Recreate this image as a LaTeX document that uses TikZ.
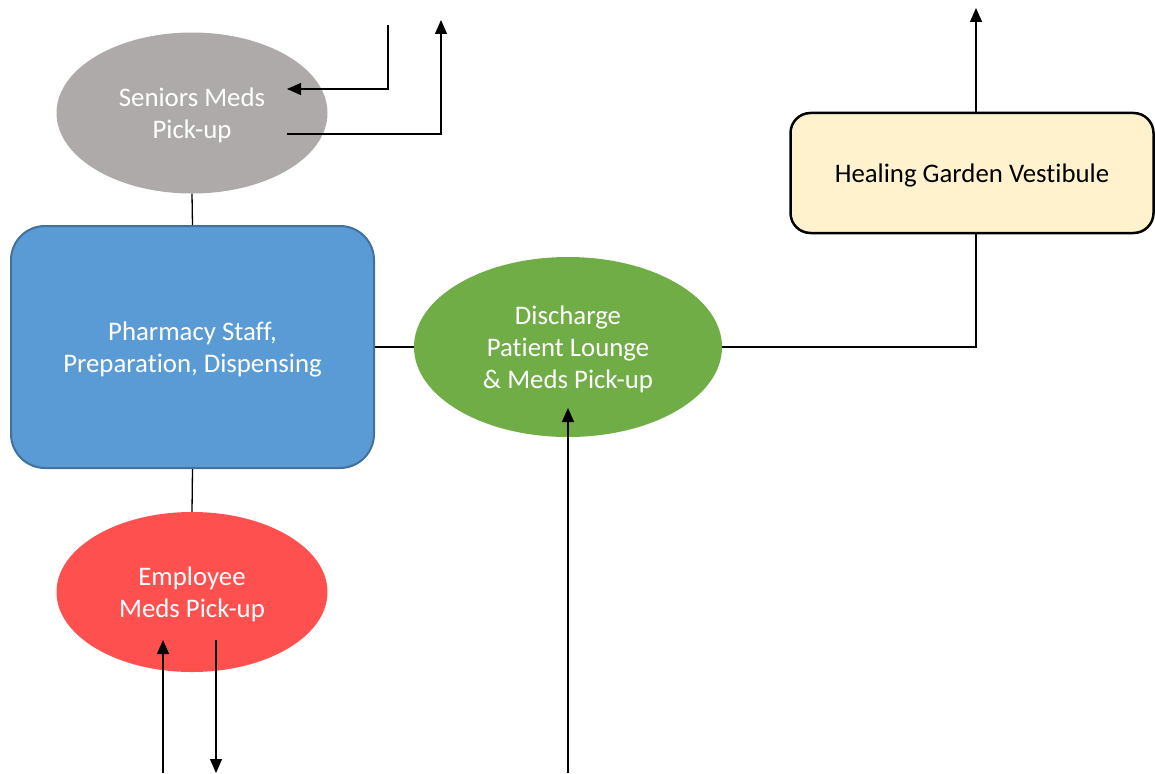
\documentclass[tikz,border=0pt]{standalone}
\usepackage{fontspec}
\setmainfont{Carlito}[Ligatures=NoCommon]
\usetikzlibrary{arrows.meta,shapes.geometric}
\definecolor{grayfill}{HTML}{AEAAAA}
\definecolor{bluefill}{HTML}{5B9BD5}
\definecolor{blueedge}{HTML}{41719C}
\definecolor{greenfill}{HTML}{70AD47}
\definecolor{redfill}{HTML}{FF5050}
\definecolor{creamfill}{HTML}{FFF2CC}
\begin{document}
\begin{tikzpicture}[x=1pt,y=-1pt,
  every node/.style={inner sep=0pt},
  lbl/.style={font=\fontsize{26.8}{32}\selectfont, align=center, inner sep=0pt, yshift=-2pt},
  wtxt/.style={label={[lbl,text=white]center:{#1}}},
  btxt/.style={label={[lbl,text=black]center:{#1}}},
  oval/.style={ellipse, draw=none},
  link/.style={line width=1.3pt, draw=black},
  arr/.style={link, -{Triangle[length=14pt,width=12pt]}}]
\useasboundingbox (0,0) rectangle (1155,773);
\fill[white] (0,0) rectangle (1155,773);
% nodes
\node[oval, fill=grayfill, minimum width=271pt, minimum height=161pt,
      wtxt={Seniors Meds\\Pick-up}] (sen) at (192,113) {};
\node[draw=blueedge, line width=2pt, fill=bluefill, rounded corners=34pt,
      minimum width=363pt, minimum height=242pt,
      wtxt={Pharmacy Staff,\\Preparation, Dispensing}] (pha) at (192.5,347) {};
\node[oval, fill=greenfill, minimum width=308pt, minimum height=180pt,
      wtxt={Discharge\\Patient Lounge\\\& Meds Pick-up}] (dis) at (568,347) {};
\node[draw=black, line width=2.5pt, fill=creamfill, rounded corners=20pt,
      minimum width=363pt, minimum height=120pt,
      btxt={Healing Garden Vestibule}] (hea) at (972,173) {};
\node[oval, fill=redfill, minimum width=271pt, minimum height=160pt,
      wtxt={Employee\\Meds Pick-up}] (emp) at (192,592) {};
% free ends
\coordinate (sinA) at (388,25);
\coordinate (sinB) at (287,89);
\coordinate (soutA) at (287,134);
\coordinate (soutB) at (441,20);
\coordinate (htop) at (976,8);
\coordinate (dbot) at (568,773);
\coordinate (dtip) at (568,408);
\coordinate (eupA) at (163,773);
\coordinate (eupB) at (163,640);
\coordinate (ednA) at (216,640);
\coordinate (ednB) at (216,773);
% connectors
\draw[arr] (sinA) |- (sinB);
\draw[arr] (soutA) -| (soutB);
\draw[link] (sen.south) -- (pha.north);
\draw[link] (pha.east) -- (dis.west);
\draw[link] (dis.east) -| (hea.south -| htop);
\draw[arr] (hea.north -| htop) -- (htop);
\draw[arr] (dbot) -- (dtip);
\draw[link] (pha.south) -- (emp.north);
\draw[arr] (eupA) -- (eupB);
\draw[arr] (ednA) -- (ednB);
\end{tikzpicture}
\end{document}
